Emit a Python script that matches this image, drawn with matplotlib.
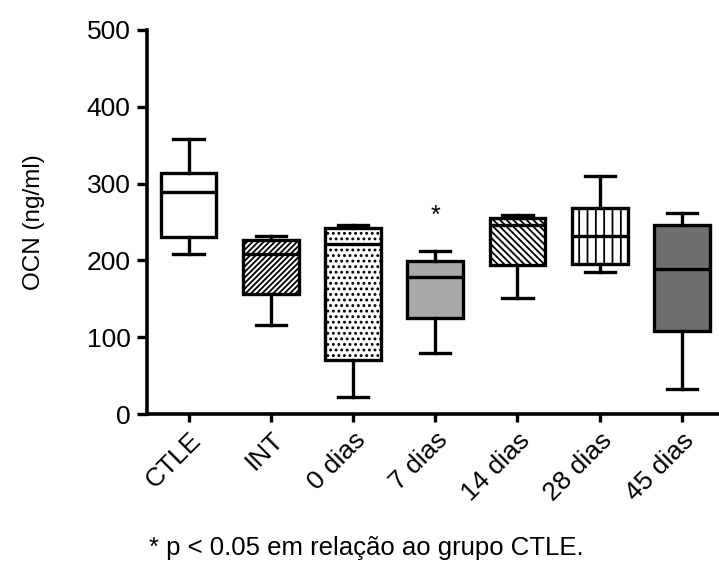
import matplotlib
matplotlib.use("Agg")
import matplotlib.pyplot as plt

plt.rcParams["font.family"] = ["Liberation Sans", "DejaVu Sans"]
plt.rcParams["hatch.linewidth"] = 1.3

groups = ["CTLE", "INT", "0 dias", "7 dias", "14 dias", "28 dias", "45 dias"]
whislo = [208, 116, 22, 80, 151, 185, 33]
q1 = [230, 156, 70, 125, 194, 196, 108]
med = [289, 208, 222, 178, 246, 232, 189]
q3 = [314, 226, 242, 199, 255, 268, 246]
whishi = [358, 232, 246, 212, 259, 310, 262]
fills = ["white", "white", "white", "#a9a9a9", "white", "white", "#6e6e6e"]
hatches = [None, "//////", "...", None, "\\" * 5, "||", None]

stats = []
for i, name in enumerate(groups):
    stats.append({"label": name, "whislo": whislo[i], "q1": q1[i], "med": med[i],
                  "q3": q3[i], "whishi": whishi[i], "fliers": []})

fig = plt.figure(figsize=(7.19, 5.76), dpi=100)
ax = fig.add_axes([0.205, 0.281, 0.795, 0.667])

lw = 2.4
bp = ax.bxp(stats, positions=range(len(groups)), widths=0.68, capwidths=0.37,
            patch_artist=True, showfliers=False,
            boxprops=dict(linewidth=lw, edgecolor="black"),
            whiskerprops=dict(linewidth=lw, color="black"),
            capprops=dict(linewidth=lw, color="black"),
            medianprops=dict(linewidth=lw, color="black"))
for patch, fc, h in zip(bp["boxes"], fills, hatches):
    patch.set_facecolor(fc)
    if h:
        patch.set_hatch(h)

ax.text(3, 258, "*", ha="center", va="center", fontsize=18)

ax.set_xlim(-0.5, 6.45)
ax.set_ylim(0, 500)
ax.set_yticks([0, 100, 200, 300, 400, 500])
ax.set_xticks(range(len(groups)))
ax.set_xticklabels(groups, rotation=45, ha="right", rotation_mode="anchor", fontsize=19)
ax.tick_params(axis="y", labelsize=19, width=2.4, length=7, pad=5)
ax.tick_params(axis="x", width=2.4, length=6, pad=4)
ax.set_ylabel("OCN (ng/ml)", fontsize=17.5)
ax.yaxis.set_label_coords(-0.18, 0.5)

for s in ["top", "right"]:
    ax.spines[s].set_visible(False)
for s in ["left", "bottom"]:
    ax.spines[s].set_linewidth(2.6)

fig.text(0.51, 0.049, "* p < 0.05 em relação ao grupo CTLE.", ha="center", va="center", fontsize=18.5)

fig.savefig("out.png", dpi=100)
